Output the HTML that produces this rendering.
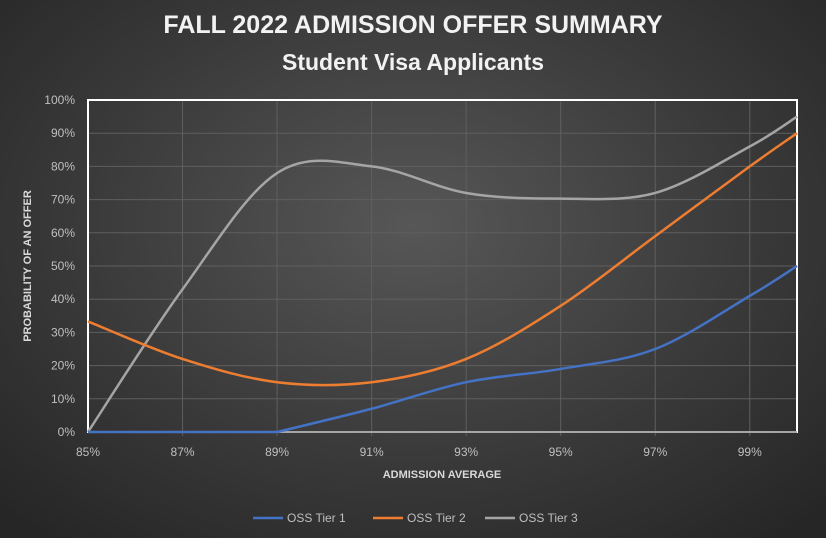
<!DOCTYPE html>
<html><head><meta charset="utf-8"><style>
html,body{margin:0;padding:0;width:826px;height:538px;overflow:hidden;}
body{background:radial-gradient(ellipse 70% 75% at 50% 42%,#575757 0%,#3b3b3b 55%,#262626 100%);font-family:"Liberation Sans",sans-serif;}
</style></head><body>
<svg width="826" height="538" xmlns="http://www.w3.org/2000/svg" style="position:absolute;left:0;top:0">
<text x="413" y="33" text-anchor="middle" fill="#f2f2f2" font-size="25" font-weight="bold" font-family="Liberation Sans, sans-serif">FALL 2022 ADMISSION OFFER SUMMARY</text>
<text x="413" y="70" text-anchor="middle" fill="#f2f2f2" font-size="23" font-weight="bold" font-family="Liberation Sans, sans-serif">Student Visa Applicants</text>
<g id="grid" stroke="#5f5f5f" stroke-width="1"></g>
<g id="labels" fill="#bfbfbf" font-size="12" font-family="Liberation Sans, sans-serif"></g>
<rect x="88" y="100" width="709" height="332" fill="none" stroke="#ffffff" stroke-width="2"/>
<line x1="88" y1="432" x2="797" y2="432" stroke="#a6a6a6" stroke-width="2"/>
<path id="t3" fill="none" stroke="#a5a5a5" stroke-width="2.5"/>
<path id="t2" fill="none" stroke="#ed7d31" stroke-width="2.5"/>
<path id="t1" fill="none" stroke="#4472c4" stroke-width="2.5"/>
<text transform="translate(31,266) rotate(-90)" text-anchor="middle" fill="#d9d9d9" font-size="11" font-weight="bold" font-family="Liberation Sans, sans-serif">PROBABILITY OF AN OFFER</text>
<text x="442" y="478" text-anchor="middle" fill="#d9d9d9" font-size="11" font-weight="bold" font-family="Liberation Sans, sans-serif">ADMISSION AVERAGE</text>
<g font-size="12" fill="#bfbfbf" font-family="Liberation Sans, sans-serif">
<line x1="253" y1="518" x2="283" y2="518" stroke="#4472c4" stroke-width="2.5"/><text x="287" y="522">OSS Tier 1</text>
<line x1="373" y1="518" x2="403" y2="518" stroke="#ed7d31" stroke-width="2.5"/><text x="407" y="522">OSS Tier 2</text>
<line x1="485" y1="518" x2="515" y2="518" stroke="#a5a5a5" stroke-width="2.5"/><text x="519" y="522">OSS Tier 3</text>
</g>
</svg>
<script>
var ns="http://www.w3.org/2000/svg";
function X(p){return 88+(p-85)*47.27;}
function Y(v){return 432-v*3.32;}
var g=document.getElementById('grid'),lb=document.getElementById('labels');
for(var i=1;i<10;i++){var l=document.createElementNS(ns,'line');l.setAttribute('x1',88);l.setAttribute('x2',797);l.setAttribute('y1',Y(i*10));l.setAttribute('y2',Y(i*10));g.appendChild(l);}
for(var i=0;i<=10;i++){var t=document.createElementNS(ns,'text');t.setAttribute('x',75);t.setAttribute('y',Y(i*10)+4);t.setAttribute('text-anchor','end');t.textContent=(i*10)+'%';lb.appendChild(t);}
[85,87,89,91,93,95,97,99].forEach(function(p){
 if(p>85){var l=document.createElementNS(ns,'line');l.setAttribute('x1',X(p));l.setAttribute('x2',X(p));l.setAttribute('y1',100);l.setAttribute('y2',436);g.appendChild(l);}
 var t=document.createElementNS(ns,'text');t.setAttribute('x',X(p));t.setAttribute('y',456);t.setAttribute('text-anchor','middle');t.textContent=p+'%';lb.appendChild(t);});
function path(pts){pts=pts.map(function(a){return [X(a[0]),Y(a[1])];});
 var d='M'+pts[0][0]+','+pts[0][1];
 for(var i=0;i<pts.length-1;i++){var p0=pts[i-1]||pts[i],p1=pts[i],p2=pts[i+1],p3=pts[i+2]||p2;var k=0.5/3;
  d+=' C'+(p1[0]+(p2[0]-p0[0])*k)+','+(p1[1]+(p2[1]-p0[1])*k)+' '+(p2[0]-(p3[0]-p1[0])*k)+','+(p2[1]-(p3[1]-p1[1])*k)+' '+p2[0]+','+p2[1];}
 return d;}
document.getElementById('t3').setAttribute('d',path([[85,0],[87,43],[89,78],[91,80],[93,72],[95,70.3],[97,72],[99,86],[100,95]]));
document.getElementById('t2').setAttribute('d',path([[85,33.3],[87,22],[89,15],[91,15],[93,22],[95,38],[97,59],[99,80],[100,90]]));
document.getElementById('t1').setAttribute('d','M88,432 L'+X(89)+',432 '+path([[89,0],[91,7],[93,15],[95,19],[97,25],[99,41],[100,50]]).replace(/^M/,' L'));
</script>
</body></html>
